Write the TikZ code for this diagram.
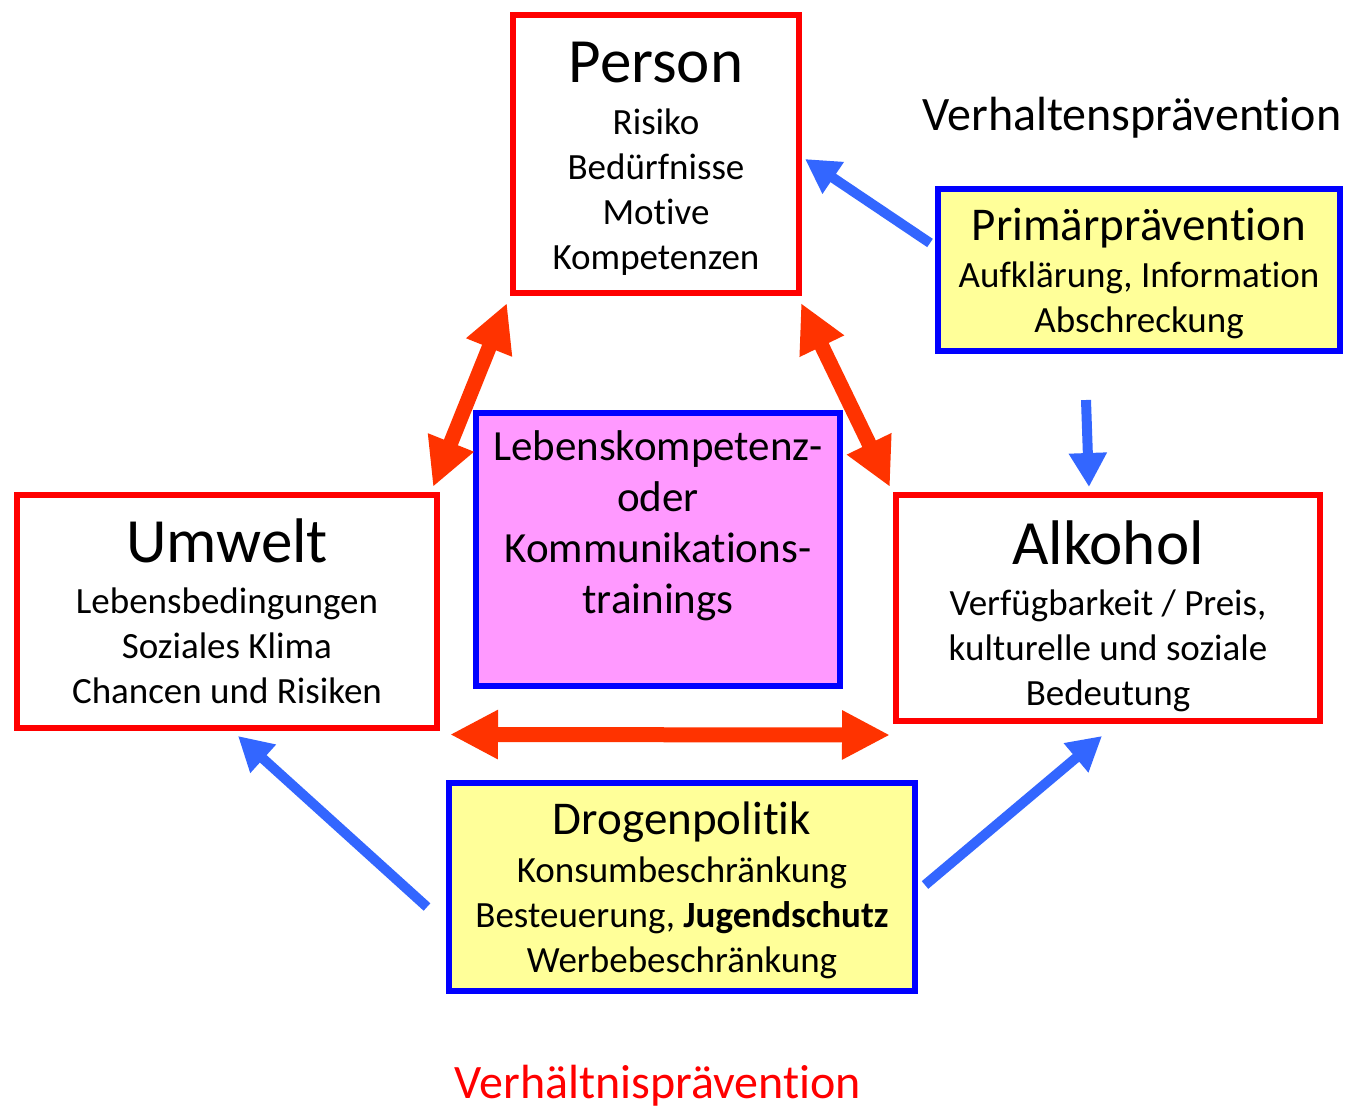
\documentclass[tikz,border=0pt]{standalone}
\usepackage{fontspec}
\setmainfont{Carlito}[Ligatures=CommonOff]
\usetikzlibrary{arrows.meta}
\definecolor{framered}{HTML}{FF0000}
\definecolor{frameblue}{HTML}{0000FF}
\definecolor{fillyellow}{HTML}{FFFF99}
\definecolor{fillpink}{HTML}{FF99FF}
\definecolor{arrowred}{HTML}{FF3300}
\definecolor{arrowblue}{HTML}{3366FF}

\begin{document}
\begin{tikzpicture}[x=1pt,y=-1pt,
  body/.style={align=center,inner sep=0pt,font=\fontsize{37}{45}\selectfont},
  redbox/.style={draw=framered,line width=6pt,fill=white,inner sep=0pt},
  bluebox/.style={draw=frameblue,line width=6pt,fill=fillyellow,inner sep=0pt},
  bigarrow/.style={draw=arrowred,line width=15pt,{Triangle[width=46pt,length=48pt]}-{Triangle[width=46pt,length=48pt]}},
  thinarrow/.style={draw=arrowblue,line width=10pt,-{Triangle[width=36pt,length=34pt]}}]
\newcommand{\titel}[2]{{\fontsize{#1}{#1}\selectfont #2}}
\useasboundingbox (0,0) rectangle (1347,1108);

\node [redbox,minimum width=286pt,minimum height=278pt] (person) at (656,154) {};
\node [redbox,minimum width=420pt,minimum height=233pt] (umwelt) at (227,611.5) {};
\node [redbox,minimum width=424pt,minimum height=226pt] (alkohol) at (1108,608) {};
\node [draw=frameblue,line width=6pt,fill=fillpink,minimum width=364pt,minimum height=273pt] (training) at (658,549.5) {};
\node [bluebox,minimum width=402pt,minimum height=162pt] (primaer) at (1139,270) {};
\node [bluebox,minimum width=466pt,minimum height=208pt] (drogen) at (682,887) {};

\node [body] (person-text) at ([yshift=-5pt]person.center)
  {\titel{63}{Person}\\[7pt] Risiko\\ Bedürfnisse\\ Motive\\ Kompetenzen};
\node [body] (umwelt-text) at (umwelt.center)
  {\titel{63}{Umwelt}\\[6pt] Lebensbedingungen\\ Soziales Klima\\ Chancen und Risiken};
\node [body] (alkohol-text) at ([yshift=-8pt]alkohol.center)
  {\titel{63}{Alkohol}\\[6pt] Verfügbarkeit / Preis,\\ kulturelle und soziale\\ Bedeutung};
\node [body,font=\fontsize{43}{51}\selectfont] (training-text) at ([yshift=-6pt]training.center)
  {Lebenskompetenz-\\ oder\\ Kommunikations-\\ trainings\\ \strut};
\node [body] (primaer-text) at ([yshift=-4pt]primaer.center)
  {\titel{47}{Primärprävention}\\[2pt] Aufklärung, Information\\ Abschreckung};
\node [body] (drogen-text) at ([yshift=-3pt]drogen.center)
  {\titel{47}{Drogenpolitik}\\[3pt] Konsumbeschränkung\\ Besteuerung, \textbf{Jugendschutz}\\ Werbebeschränkung};

\node [inner sep=0pt,font=\fontsize{48}{48}\selectfont] (verhalten) at (1132,118) {Verhaltensprävention};
\node [inner sep=0pt,font=\fontsize{48}{48}\selectfont,text=framered] (verhaeltnis) at (658,1086) {Verhältnisprävention};

\draw [bigarrow] ([shift={(-3,7)}]person.south west) -- ([shift={(-7,-5)}]umwelt.north east);
\draw [bigarrow] ([shift={(-1,7)}]person.south east) -- ([shift={(-3,-5)}]alkohol.north west);
\draw [bigarrow] ([shift={(10,3.5)}]umwelt.south east) -- ([shift={(-3,11)}]alkohol.south west);

\draw [thinarrow] ([shift={(-5,-27)}]primaer.west) -- ([shift={(3,5)}]person.east);
\draw [thinarrow] ([shift={(-53,46)}]primaer.south) -- ([shift={(-19,-5)}]alkohol.north);
\draw [thinarrow] ([shift={(-19,20)}]drogen.west) -- ([shift={(11,5)}]umwelt.south);
\draw [thinarrow] ([shift={(7,-2)}]drogen.east) -- ([shift={(-6,12)}]alkohol.south);
\end{tikzpicture}
\end{document}
